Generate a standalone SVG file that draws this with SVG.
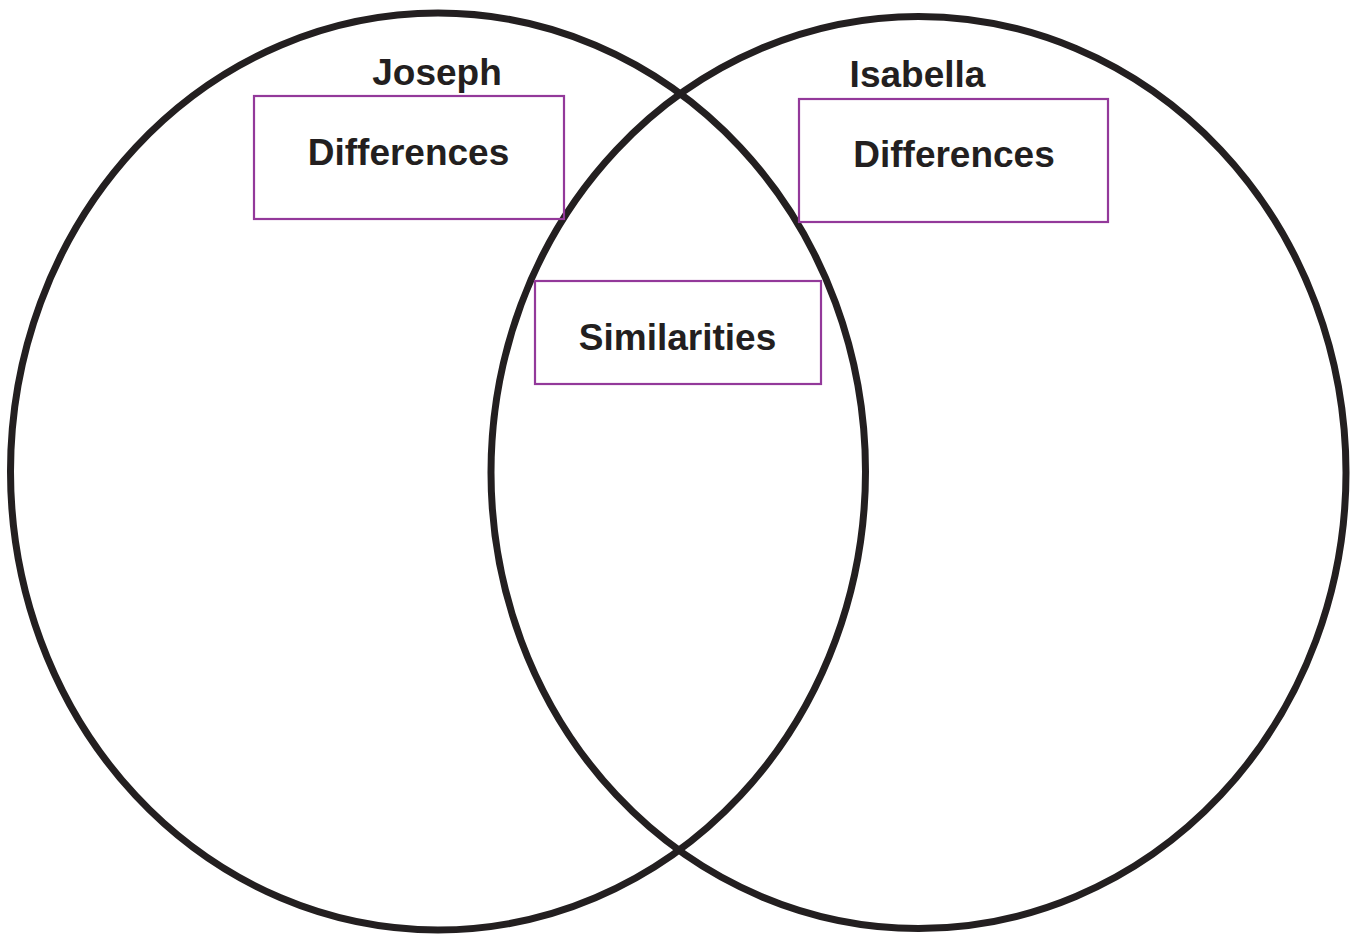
<svg xmlns="http://www.w3.org/2000/svg" width="1355" height="936" viewBox="0 0 1355 936">
<style>
.circ{fill:none;stroke:#231f20;stroke-width:7}
.box{fill:none;stroke:#93399a;stroke-width:2.2}
.t{font-family:"Liberation Sans",Arial,sans-serif;font-weight:bold;font-size:37px;fill:#231f20;text-anchor:middle}
</style>
<rect width="1355" height="936" fill="#ffffff"/>
<g id="circle-joseph"><ellipse class="circ" cx="438" cy="471.5" rx="427.5" ry="458.5"/></g>
<g id="circle-isabella"><ellipse class="circ" cx="918.5" cy="472.5" rx="427.5" ry="456"/></g>
<g id="label-joseph"><text class="t" x="437" y="85">Joseph</text></g>
<g id="label-isabella"><text class="t" x="917.5" y="87">Isabella</text></g>
<g id="box-joseph-differences"><rect class="box" x="254" y="96" width="310" height="123"/><text class="t" x="408.5" y="165">Differences</text></g>
<g id="box-isabella-differences"><rect class="box" x="799" y="99" width="309" height="123"/><text class="t" x="954" y="167">Differences</text></g>
<g id="box-similarities"><rect class="box" x="535" y="281" width="286" height="103"/><text class="t" x="677.5" y="350">Similarities</text></g>
<g id="connectors"></g>
</svg>
